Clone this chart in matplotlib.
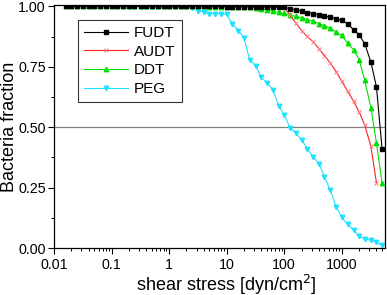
import matplotlib
matplotlib.use("Agg")
import matplotlib.pyplot as plt
from matplotlib.ticker import FixedLocator, NullFormatter, LogLocator

plt.rcParams["font.family"] = ["Liberation Sans", "DejaVu Sans"]

# shear stress grid [dyn/cm2]
x_stress = [0.016, 0.02, 0.025, 0.032, 0.04, 0.05, 0.063, 0.08,
            0.1, 0.126, 0.16, 0.2, 0.25, 0.32, 0.4, 0.5, 0.63, 0.8,
            1, 1.26, 1.6, 2, 2.5, 3.2, 4, 5, 6.3, 8,
            10, 12.6, 16, 20, 25, 32, 40, 50, 63, 80,
            100, 126, 160, 200, 250, 320, 400, 500, 630, 800,
            1000, 1260, 1600, 2000, 2500, 3200, 4000, 5000]

fudt = [1.0, 1.0, 1.0, 1.0, 1.0, 1.0, 1.0, 1.0,
        1.0, 1.0, 1.0, 1.0, 1.0, 1.0, 1.0, 1.0, 1.0, 1.0,
        1.0, 1.0, 1.0, 1.0, 1.0, 1.0, 1.0, 1.0, 1.0, 1.0,
        0.999, 0.999, 0.999, 0.999, 0.999, 0.999, 0.999, 0.998, 0.998, 0.998,
        0.997, 0.99, 0.986, 0.981, 0.975, 0.97, 0.966, 0.96, 0.956, 0.949,
        0.942, 0.928, 0.904, 0.883, 0.846, 0.77, 0.667, 0.412]

audt = [1.0, 0.999, 1.0, 1.0, 1.0, 1.0, 1.0, 1.0,
        1.0, 1.0, 1.0, 1.0, 1.0, 1.0, 1.0, 1.0, 1.0, 1.0,
        1.0, 1.0, 1.0, 1.0, 1.0, 1.0, 1.0, 1.0, 1.0, 1.0,
        0.999, 0.999, 0.999, 0.999, 0.999, 0.999, 0.998, 0.998, 0.998, 0.998,
        0.997, 0.963, 0.931, 0.90, 0.876, 0.853, 0.825, 0.797, 0.766, 0.73,
        0.69, 0.65, 0.608, 0.563, 0.51, 0.421, 0.27]

ddt = [1.0, 1.0, 1.0, 1.0, 1.0, 1.0, 1.0, 1.0,
       1.0, 1.0, 1.0, 1.0, 1.0, 1.0, 1.0, 1.0, 1.0, 1.0,
       1.0, 1.0, 1.0, 1.0, 1.0, 1.0, 1.0, 0.999, 0.999, 0.999,
       0.999, 0.999, 0.999, 0.999, 0.998, 0.995, 0.99, 0.985, 0.981, 0.976,
       0.971, 0.964, 0.959, 0.953, 0.946, 0.939, 0.929, 0.921, 0.91, 0.894,
       0.88, 0.848, 0.821, 0.78, 0.694, 0.581, 0.435, 0.27]

peg = [1.0, 1.0, 1.0, 1.0, 1.0, 1.0, 1.0, 1.0,
       1.0, 1.0, 0.999, 0.999, 0.999, 0.999, 0.999, 0.999, 0.999, 0.999,
       0.999, 0.998, 0.998, 0.998, 0.995, 0.983, 0.977, 0.97, 0.97, 0.97,
       0.967, 0.928, 0.9, 0.87, 0.78, 0.754, 0.707, 0.684, 0.656, 0.59,
       0.55, 0.499, 0.476, 0.449, 0.412, 0.377, 0.35, 0.295, 0.24, 0.171,
       0.127, 0.099, 0.074, 0.05, 0.036, 0.033, 0.024, 0.012]

x_ticks = [0.01, 0.1, 1, 10, 100, 1000]
x_tick_labels = ["0.01", "0.1", "1", "10", "100", "1000"]
y_ticks = [0.0, 0.25, 0.5, 0.75, 1.0]

fig = plt.figure(figsize=(3.87, 2.95), dpi=100)
ax = fig.add_axes([0.1395, 0.159, 0.855, 0.824])

ax.axhline(0.5, color="#808080", lw=0.9, zorder=1)

ax.plot(x_stress, fudt, color="black", lw=0.8, marker="s", ms=2.6, label="FUDT", zorder=5)
ax.plot(x_stress[:len(audt)], audt, color="#ff2020", lw=0.8, marker="x", ms=3.5,
        mec="#ff8080", mew=0.7, label="AUDT", zorder=4)
ax.plot(x_stress, ddt, color="#00e000", lw=0.8, marker="^", ms=3.2, label="DDT", zorder=3)
ax.plot(x_stress, peg, color="#20e0ff", lw=0.8, marker="v", ms=3.2, label="PEG", zorder=2)

ax.set_xscale("log")
ax.set_xlim(0.01, 5600)
ax.set_ylim(0, 1.006)
ax.xaxis.set_major_locator(FixedLocator(x_ticks))
ax.set_xticklabels(x_tick_labels)
ax.xaxis.set_minor_locator(LogLocator(base=10, subs=range(2, 10), numticks=20))
ax.xaxis.set_minor_formatter(NullFormatter())
ax.set_yticks(y_ticks)
ax.set_yticklabels([f"{v:.2f}" for v in y_ticks])
ax.yaxis.set_minor_locator(FixedLocator([0.125, 0.375, 0.625, 0.875]))

ax.tick_params(which="major", direction="out", length=4, width=0.8, labelsize=10.3,
               top=False, right=False)
ax.tick_params(axis="x", which="major", pad=3)
ax.tick_params(axis="y", which="major", pad=2)
ax.tick_params(which="minor", direction="out", length=2.2, width=0.7, top=False, right=False)
for s in ax.spines.values():
    s.set_linewidth(0.9)

ax.set_xlabel("shear stress [dyn/cm$^2$]", fontsize=13)
ax.xaxis.set_label_coords(0.52, -0.10)
ax.set_ylabel("Bacteria fraction", fontsize=13)
ax.yaxis.set_label_coords(-0.11, 0.5)

leg = ax.legend(loc="upper left", bbox_to_anchor=(0.0716, 0.938), fontsize=11,
                frameon=True, fancybox=False, edgecolor="black", handlelength=2.9,
                handletextpad=0.4, borderpad=0.4, labelspacing=0.3, borderaxespad=0)
leg.get_frame().set_linewidth(0.8)

fig.savefig("out.png", dpi=100)
